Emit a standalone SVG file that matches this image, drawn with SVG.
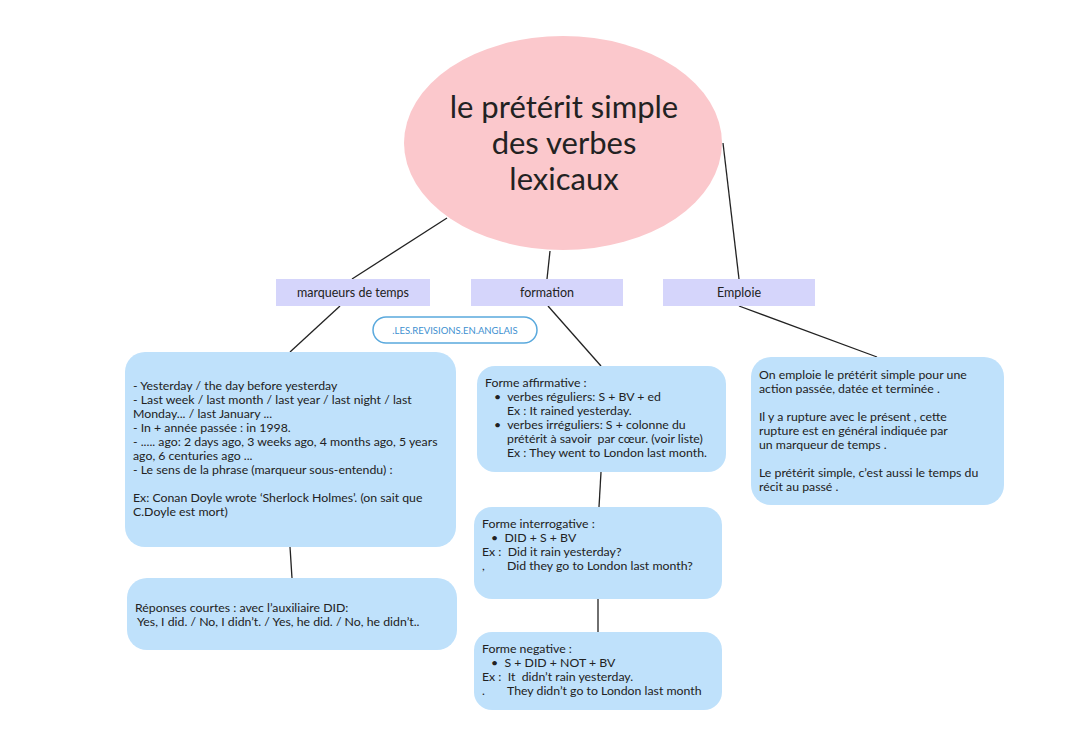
<svg xmlns="http://www.w3.org/2000/svg" width="1080" height="749" viewBox="0 0 1080 749">
<style>
text{font-family:Lato,"Liberation Sans",sans-serif;fill:#222;white-space:pre}
.t{font-size:12.3px}
.lbl{font-size:12.5px;text-anchor:middle}
.box{fill:#bfe1fb}
.tag{fill:#d5d5fb}
.c line{stroke:#222;stroke-width:1.3}
</style>
<rect width="1080" height="749" fill="#fff"/>
<g class="c" id="connectors">
<line x1="447" y1="218" x2="352" y2="279"/>
<line x1="550" y1="251" x2="547" y2="279"/>
<line x1="723" y1="143" x2="739" y2="279"/>
<line x1="340" y1="306" x2="290" y2="352"/>
<line x1="548" y1="306" x2="601" y2="366"/>
<line x1="739" y1="306" x2="877" y2="357"/>
<line x1="290" y1="547" x2="292" y2="578"/>
<line x1="601" y1="472" x2="599" y2="507"/>
<line x1="598" y1="599" x2="598" y2="632"/>
</g>
<g id="title">
<ellipse cx="563" cy="143" rx="159" ry="107" fill="#fbc8cc"/>
<text x="564" y="118" font-size="31" text-anchor="middle">le prétérit simple</text>
<text x="564" y="154" font-size="31" text-anchor="middle">des verbes</text>
<text x="564" y="190" font-size="31" text-anchor="middle">lexicaux</text>
</g>
<g id="n-marqueurs"><rect class="tag" x="276" y="279" width="154" height="27"/><text class="lbl" x="353" y="297">marqueurs de temps</text></g>
<g id="n-formation"><rect class="tag" x="471" y="279" width="152" height="27"/><text class="lbl" x="547" y="297">formation</text></g>
<g id="n-emploie"><rect class="tag" x="663" y="279" width="152" height="27"/><text class="lbl" x="739" y="297">Emploie</text></g>
<g id="watermark"><rect x="373" y="317" width="164" height="26" rx="13" fill="#fff" stroke="#5aa9dd" stroke-width="1.5"/><text x="455" y="334" font-size="9.5" text-anchor="middle" style="fill:#3d8fd0">.LES.REVISIONS.EN.ANGLAIS</text></g>
<g id="n-list">
<rect class="box" x="125" y="352" width="331" height="195" rx="20"/>
<text class="t" x="133" y="390">- Yesterday / the day before yesterday</text>
<text class="t" x="133" y="404">- Last week / last month / last year / last night / last</text>
<text class="t" x="133" y="418">Monday... / last January ...</text>
<text class="t" x="133" y="432">- In + année passée : in 1998.</text>
<text class="t" x="133" y="446">- ..... ago: 2 days ago, 3 weeks ago, 4 months ago, 5 years</text>
<text class="t" x="133" y="460">ago, 6 centuries ago ...</text>
<text class="t" x="133" y="474">- Le sens de la phrase (marqueur sous-entendu) :</text>
<text class="t" x="133" y="502">Ex: Conan Doyle wrote ‘Sherlock Holmes’. (on sait que</text>
<text class="t" x="133" y="516">C.Doyle est mort)</text>
</g>
<g id="n-reponses">
<rect class="box" x="127" y="578" width="330" height="72" rx="20"/>
<text class="t" x="135" y="612">Réponses courtes : avec l’auxiliaire DID:</text>
<text class="t" x="137" y="626">Yes, I did. / No, I didn’t. / Yes, he did. / No, he didn’t..</text>
</g>
<g id="n-affirmative">
<rect class="box" x="477" y="366" width="249" height="106" rx="18"/>
<text class="t" x="485" y="387">Forme affirmative :</text>
<text class="t" x="494" y="401">•  verbes réguliers: S + BV + ed</text>
<text class="t" x="507" y="415">Ex : It rained yesterday.</text>
<text class="t" x="494" y="429">•  verbes irréguliers: S + colonne du</text>
<text class="t" x="507" y="443">prétérit à savoir  par cœur. (voir liste)</text>
<text class="t" x="507" y="457">Ex : They went to London last month.</text>
</g>
<g id="n-interrogative">
<rect class="box" x="474" y="507" width="248" height="92" rx="18"/>
<text class="t" x="482" y="528">Forme interrogative :</text>
<text class="t" x="491" y="542">•  DID + S + BV</text>
<text class="t" x="482" y="556">Ex :  Did it rain yesterday?</text>
<text class="t" x="482" y="570">,</text>
<text class="t" x="507" y="570">Did they go to London last month?</text>
</g>
<g id="n-negative">
<rect class="box" x="474" y="632" width="248" height="78" rx="18"/>
<text class="t" x="482" y="653">Forme negative :</text>
<text class="t" x="491" y="667">•  S + DID + NOT + BV</text>
<text class="t" x="482" y="681">Ex :  It  didn’t rain yesterday.</text>
<text class="t" x="482" y="695">.</text>
<text class="t" x="507" y="695">They didn’t go to London last month</text>
</g>
<g id="n-emploi-text">
<rect class="box" x="751" y="357" width="253" height="148" rx="20"/>
<text class="t" x="759" y="379">On emploie le prétérit simple pour une</text>
<text class="t" x="759" y="393">action passée, datée et terminée .</text>
<text class="t" x="759" y="421">Il y a rupture avec le présent , cette</text>
<text class="t" x="759" y="435">rupture est en général indiquée par</text>
<text class="t" x="759" y="449">un marqueur de temps .</text>
<text class="t" x="759" y="477">Le prétérit simple, c’est aussi le temps du</text>
<text class="t" x="759" y="491">récit au passé .</text>
</g>
</svg>
